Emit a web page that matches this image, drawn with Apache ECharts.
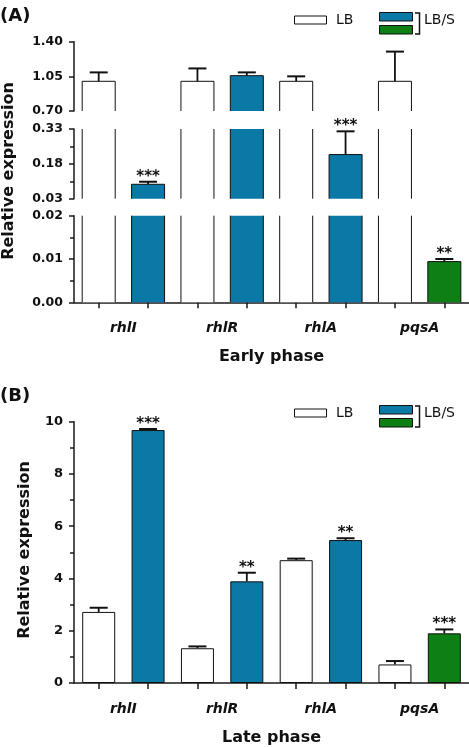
<!DOCTYPE html>
<html><head><meta charset="utf-8">
<script src="https://cdn.jsdelivr.net/npm/echarts@6/dist/echarts.min.js"></script>
<style>html,body{margin:0;padding:0;background:#fff}#c{width:469px;height:747px}</style>
</head><body><div id="c"></div>
<script>
// ---------- data ----------
const genes = ['rhlI', 'rhlR', 'rhlA', 'pqsA'];
const slots = ['rhlI LB', 'rhlI LB/S', 'rhlR LB', 'rhlR LB/S', 'rhlA LB', 'rhlA LB/S', 'pqsA LB', 'pqsA LB/S'];
// Early phase (panel A)
const earlyLB = [1.00, 1.00, 1.00, 1.00];
const earlyLBErr = [0.09, 0.13, 0.05, 0.30];
const earlyLBS = [0.092, 1.057, 0.22, 0.0094];
const earlyLBSErr = [0.011, 0.033, 0.10, 0.0006];
const earlyStars = ['***', '', '***', '**'];
// broken y axis segments of panel A (bottom, middle, top)
const earlySegMin = [0.00, 0.03, 0.70];
const earlySegMax = [0.02, 0.33, 1.40];
const earlySegStep = [0.01, 0.15, 0.35];
// Late phase (panel B)
const lateLB = [2.72, 1.33, 4.70, 0.71];
const lateLBErr = [0.16, 0.07, 0.06, 0.13];
const lateLBS = [9.68, 3.89, 5.47, 1.90];
const lateLBSErr = [0.04, 0.33, 0.07, 0.15];
const lateStars = ['***', '**', '**', '***'];
const lateMin = 0, lateMax = 10, lateStep = 2;

// ---------- styles ----------
const FONT = '"DejaVu Sans", sans-serif';
const AX = '#1a1a1a';
const EDGE = '#111';
const BLUE = '#0b79a6';
const GREEN = '#0e7f14';
const FILL = ['#ffffff', BLUE, GREEN];
const BAR_W = 33, CAP_W = 18;
const segGrids = [
  {top: 215.7, height: 86.6, minor: true},
  {top: 129, height: 69.7, minor: true},
  {top: 41.7, height: 69.3, minor: false}
];
const gridLeft = 74, gridWidth = 395;
const r6 = v => +v.toFixed(6);

function yAxisCommon(gridIndex, fontSize) {
  return {
    gridIndex, type: 'value',
    axisLine: {show: true, lineStyle: {color: AX, width: 1.5}},
    axisTick: {show: true, length: 5, lineStyle: {color: AX, width: 1.5}},
    minorTick: {show: false},
    splitLine: {show: false}, minorSplitLine: {show: false},
    axisLabel: {fontFamily: FONT, fontWeight: 'bold', fontSize, color: '#111', margin: 11}
  };
}
function slotAxis(gridIndex, show) {
  return {
    gridIndex, type: 'category', data: slots, show, position: 'bottom', boundaryGap: true,
    axisLine: {show: true, lineStyle: {color: AX, width: 1.5}},
    axisTick: {show: true, alignWithLabel: true, interval: 0, length: 6, lineStyle: {color: AX, width: 1.5}},
    axisLabel: {show: false}
  };
}
function geneAxis(gridIndex, name) {
  return {
    gridIndex, type: 'category', data: genes, position: 'bottom',
    axisLine: {show: false}, axisTick: {show: false},
    axisLabel: {fontFamily: FONT, fontWeight: 'bold', fontStyle: 'italic', fontSize: 14, color: '#111', margin: 19, interval: 0},
    name, nameLocation: 'middle', nameGap: 47,
    nameTextStyle: {fontFamily: FONT, fontWeight: 'bold', fontSize: 16, color: '#111'}
  };
}

function renderSeg(params, api) {
  const cs = params.coordSys;
  const yTop = cs.y, yBot = cs.y + cs.height;
  const slot = api.value(0), v = api.value(1), err = api.value(2), kind = api.value(3), gi = api.value(4);
  const p = api.coord([slot, v]);
  const x = p[0], py = p[1];
  if (py >= yBot - 0.01) return null;
  const top = Math.max(py, yTop);
  const hw = BAR_W / 2;
  const ch = [
    {type: 'rect', shape: {x: x - hw, y: top, width: BAR_W, height: yBot - top}, style: {fill: FILL[kind]}},
    {type: 'line', shape: {x1: x - hw, y1: top, x2: x - hw, y2: yBot}, style: {stroke: EDGE, lineWidth: 1}},
    {type: 'line', shape: {x1: x + hw, y1: top, x2: x + hw, y2: yBot}, style: {stroke: EDGE, lineWidth: 1}}
  ];
  if (py >= yTop) {
    const e = api.coord([slot, v + err])[1];
    ch.push({type: 'line', shape: {x1: x - hw, y1: py, x2: x + hw, y2: py}, style: {stroke: EDGE, lineWidth: 1}});
    ch.push({type: 'line', shape: {x1: x, y1: py, x2: x, y2: e}, style: {stroke: EDGE, lineWidth: 1.8}});
    ch.push({type: 'line', shape: {x1: x - CAP_W / 2, y1: e, x2: x + CAP_W / 2, y2: e}, style: {stroke: EDGE, lineWidth: 2}});
    if (kind > 0 && earlyStars[gi]) {
      ch.push({type: 'text', style: {text: earlyStars[gi], x: x, y: e - 5, align: 'center', verticalAlign: 'middle',
        font: 'bold 15px ' + FONT, fill: '#111'}});
    }
  }
  return {type: 'group', children: ch};
}
function renderErr(params, api) {
  const slot = api.value(0), v = api.value(1), err = api.value(2), gi = api.value(3), kind = api.value(4);
  const p = api.coord([slot, v]);
  const e = api.coord([slot, v + err])[1];
  const x = p[0];
  const ch = [
    {type: 'line', shape: {x1: x, y1: p[1], x2: x, y2: e}, style: {stroke: EDGE, lineWidth: 1.8}},
    {type: 'line', shape: {x1: x - CAP_W / 2, y1: e, x2: x + CAP_W / 2, y2: e}, style: {stroke: EDGE, lineWidth: 2}}
  ];
  if (kind > 0 && lateStars[gi]) {
    ch.push({type: 'text', style: {text: lateStars[gi], x: x, y: e - 5, align: 'center', verticalAlign: 'middle',
      font: 'bold 15px ' + FONT, fill: '#111'}});
  }
  return {type: 'group', children: ch};
}

// ---------- build options ----------
const grid = segGrids.map(g => ({left: gridLeft, width: gridWidth, top: g.top, height: g.height}));
grid.push({left: gridLeft, width: gridWidth, top: 421.7, height: 262.3});

const xAxis = [
  slotAxis(0, true), geneAxis(0, 'Early phase'),
  slotAxis(1, false), slotAxis(2, false),
  slotAxis(3, true), geneAxis(3, 'Late phase')
];
const segXAxisIndex = [0, 2, 3];

const yAxis = segGrids.map((g, s) => {
  const ax = yAxisCommon(s, 12.5);
  ax.min = 0;
  ax.max = r6(earlySegMax[s] - earlySegMin[s]);
  ax.interval = earlySegStep[s];
  ax.minorTick = {show: g.minor, splitNumber: 2, length: 4, lineStyle: {color: AX, width: 1.5}};
  ax.axisLabel.formatter = v => r6(v + earlySegMin[s]).toFixed(2);
  return ax;
});
const yB = yAxisCommon(3, 13);
yB.min = lateMin; yB.max = lateMax; yB.interval = lateStep;
yB.minorTick = {show: true, splitNumber: 2, length: 4, lineStyle: {color: AX, width: 1.5}};
yAxis.push(yB);

const series = [];
segGrids.forEach((g, s) => {
  const data = [];
  genes.forEach((gn, i) => {
    data.push([2 * i, r6(earlyLB[i] - earlySegMin[s]), earlyLBErr[i], 0, i]);
    data.push([2 * i + 1, r6(earlyLBS[i] - earlySegMin[s]), earlyLBSErr[i], i === 3 ? 2 : 1, i]);
  });
  series.push({
    type: 'custom', xAxisIndex: segXAxisIndex[s], yAxisIndex: s,
    renderItem: renderSeg, data, encode: {x: 0, y: 1}, clip: false, silent: true
  });
});
// panel B bars
series.push({
  type: 'bar', name: 'LB', xAxisIndex: 4, yAxisIndex: 3, barWidth: BAR_W, barGap: '-100%',
  itemStyle: {color: '#fff', borderColor: EDGE, borderWidth: 1},
  data: slots.map((s, k) => k % 2 === 0 ? lateLB[k / 2] : '-'), silent: true
});
series.push({
  type: 'bar', name: 'LB/S', xAxisIndex: 4, yAxisIndex: 3, barWidth: BAR_W, barGap: '-100%',
  itemStyle: {color: BLUE, borderColor: EDGE, borderWidth: 1},
  data: slots.map((s, k) => {
    if (k % 2 === 0) return '-';
    const i = (k - 1) / 2;
    return {value: lateLBS[i], itemStyle: {color: i === 3 ? GREEN : BLUE}};
  }), silent: true
});
const errB = [];
genes.forEach((gn, i) => {
  errB.push([2 * i, lateLB[i], lateLBErr[i], i, 0]);
  errB.push([2 * i + 1, lateLBS[i], lateLBSErr[i], i, i === 3 ? 2 : 1]);
});
series.push({type: 'custom', xAxisIndex: 4, yAxisIndex: 3, renderItem: renderErr, data: errB,
  encode: {x: 0, y: 1}, clip: false, silent: true, z: 5});

// ---------- text & legends ----------
function legend(dy) {
  return [
    {type: 'rect', shape: {x: 294.5, y: 16 + dy, width: 32, height: 8}, style: {fill: '#fff', stroke: EDGE, lineWidth: 1}},
    {type: 'text', style: {text: 'LB', x: 336, y: 20.5 + dy, verticalAlign: 'middle', font: '14px ' + FONT, fill: '#111'}},
    {type: 'rect', shape: {x: 379.5, y: 12.5 + dy, width: 33, height: 8.5}, style: {fill: BLUE, stroke: EDGE, lineWidth: 1}},
    {type: 'rect', shape: {x: 379.5, y: 25.5 + dy, width: 33, height: 8.5}, style: {fill: GREEN, stroke: EDGE, lineWidth: 1}},
    {type: 'polyline', shape: {points: [[415, 13 + dy], [419.5, 13 + dy], [419.5, 34 + dy], [415, 34 + dy]]}, style: {stroke: EDGE, lineWidth: 1.5, fill: null}},
    {type: 'text', style: {text: 'LB/S', x: 424, y: 20.5 + dy, verticalAlign: 'middle', font: '14px ' + FONT, fill: '#111'}}
  ];
}
const graphic = [
  {type: 'text', style: {text: '(A)', x: 0, y: 16, verticalAlign: 'middle', font: 'bold 18px ' + FONT, fill: '#111'}},
  {type: 'text', style: {text: '(B)', x: 0, y: 396, verticalAlign: 'middle', font: 'bold 18px ' + FONT, fill: '#111'}},
  {type: 'text', x: 9, y: 171, rotation: Math.PI / 2,
    style: {text: 'Relative expression', align: 'center', verticalAlign: 'middle', font: 'bold 16px ' + FONT, fill: '#111'}},
  {type: 'text', x: 25, y: 550, rotation: Math.PI / 2,
    style: {text: 'Relative expression', align: 'center', verticalAlign: 'middle', font: 'bold 16px ' + FONT, fill: '#111'}}
].concat(legend(0), legend(393));

const chart = echarts.init(document.getElementById('c'), null, {renderer: 'canvas'});
chart.setOption({animation: false, backgroundColor: '#fff', grid, xAxis, yAxis, series, graphic});
</script></body></html>
